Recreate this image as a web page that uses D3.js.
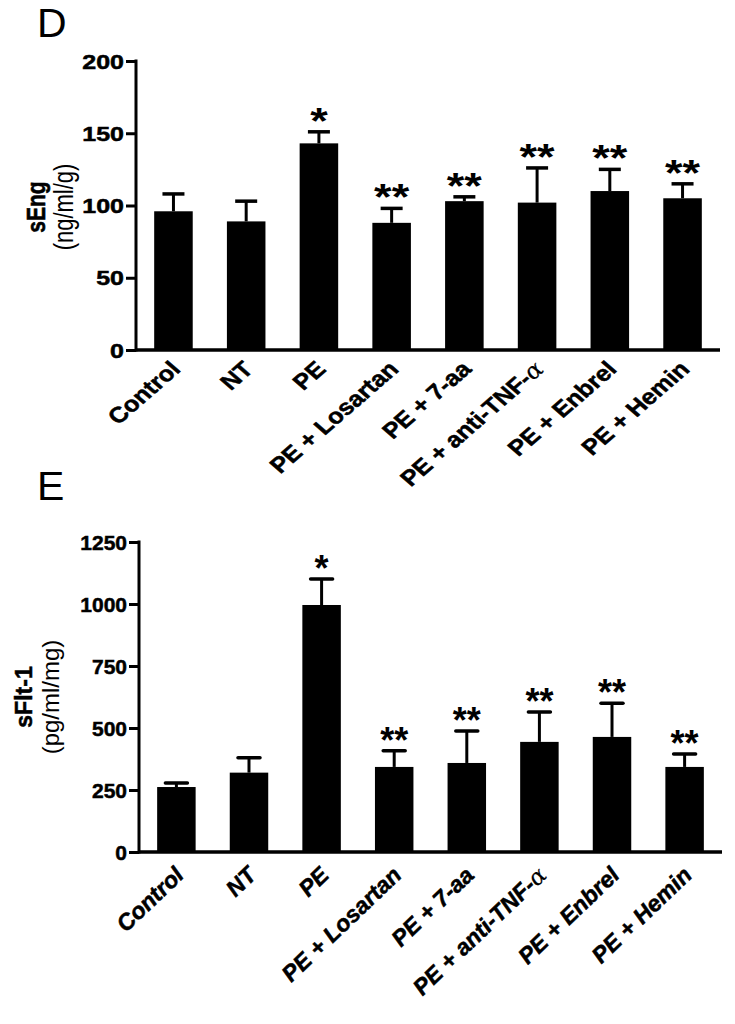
<!DOCTYPE html>
<html>
<head>
<meta charset="utf-8">
<script src="https://cdn.jsdelivr.net/npm/d3@7"></script>
<style>
  html, body { margin: 0; padding: 0; background: #fff; }
  svg { display: block; }
  text { font-family: "Liberation Sans", Arial, sans-serif; }
</style>
</head>
<body>
<script>
// ---------- data ----------
const categories = ["Control", "NT", "PE", "PE + Losartan", "PE + 7-aa", "PE + anti-TNF-α", "PE + Enbrel", "PE + Hemin"];

// Panel D: sEng (ng/ml/g)
const sEngMean = [96, 89, 143, 88, 103, 102, 110, 105];
const sEngSEM  = [12, 14, 8, 10, 3, 24, 15, 10];
const sEngSig  = ["", "", "*", "**", "**", "**", "**", "**"];
const sEngTicks = [0, 50, 100, 150, 200];

// Panel E: sFlt-1 (pg/ml/mg)
const sFltMean = [262, 320, 996, 343, 359, 444, 464, 343];
const sFltSEM  = [16, 60, 105, 65, 129, 121, 136, 52];
const sFltSig  = ["", "", "*", "**", "**", "**", "**", "**"];
const sFltTicks = [0, 250, 500, 750, 1000, 1250];

const svg = d3.select("body").append("svg")
  .attr("width", 735).attr("height", 1024);

const BOLD_STROKE = 0.5;

function panel(o) {
  const g = svg.append("g");
  const x = d3.scaleBand().domain(categories)
    .range([o.x0, o.x1]).paddingInner(0.47).paddingOuter(0.25);
  const y = d3.scaleLinear().domain([0, o.yMax]).range([o.yBase, o.yTop]);

  // panel letter
  svg.append("text").attr("x", o.letterX).attr("y", o.letterY)
    .attr("font-size", 41).attr("fill", "#000").text(o.letter);

  // bars
  g.selectAll("rect.bar").data(categories).join("rect")
    .attr("class", "bar")
    .attr("x", d => x(d))
    .attr("y", (d, i) => y(o.mean[i]))
    .attr("width", x.bandwidth())
    .attr("height", (d, i) => y(0) - y(o.mean[i]))
    .attr("fill", "#000");

  // error bars (upper only)
  const eb = g.selectAll("g.err").data(categories).join("g").attr("class", "err");
  eb.append("line")
    .attr("x1", d => x(d) + x.bandwidth() / 2)
    .attr("x2", d => x(d) + x.bandwidth() / 2)
    .attr("y1", (d, i) => y(o.mean[i]))
    .attr("y2", (d, i) => y(o.mean[i] + o.sem[i]))
    .attr("stroke", "#000").attr("stroke-width", 3);
  eb.append("line")
    .attr("x1", d => x(d) + x.bandwidth() / 2 - o.capW / 2)
    .attr("x2", d => x(d) + x.bandwidth() / 2 + o.capW / 2)
    .attr("y1", (d, i) => y(o.mean[i] + o.sem[i]))
    .attr("y2", (d, i) => y(o.mean[i] + o.sem[i]))
    .attr("stroke", "#000").attr("stroke-width", 3.5)
    .attr("stroke-linecap", o.capRound ? "round" : "butt");

  // significance stars
  g.selectAll("text.sig").data(categories).join("text")
    .attr("class", "sig")
    .attr("text-anchor", "middle")
    .attr("font-size", o.sigFont)
    .attr("font-weight", "bold")
    .attr("transform", (d, i) => `translate(${x(d) + x.bandwidth() / 2},${y(o.mean[i] + o.sem[i]) + o.sigDy}) scale(${o.sx},1)`)
    .text((d, i) => o.sig[i]);

  // y axis
  const ya = g.append("g").attr("transform", `translate(${o.x0},0)`)
    .call(d3.axisLeft(y).tickValues(o.ticks).tickFormat(d3.format("d"))
      .tickSize(o.tickLen).tickSizeOuter(0).tickPadding(0));
  ya.select(".domain").attr("stroke", "#000").attr("stroke-width", 3)
    .attr("d", `M0,${o.yBase + 1.5}V${o.yTop - 1.5}`);
  ya.selectAll(".tick line").attr("stroke", "#000").attr("stroke-width", 3);
  ya.selectAll(".tick text")
    .attr("x", null).attr("dy", "0.36em")
    .attr("transform", `translate(${-o.tickLen - 2},0) scale(${o.sx},1)`)
    .attr("font-family", "'Liberation Sans', Arial, sans-serif")
    .attr("font-size", o.tickFont).attr("font-weight", "bold").attr("fill", "#000")
    .attr("stroke", "#000").attr("stroke-width", BOLD_STROKE);

  // x axis
  const xa = g.append("g").attr("transform", `translate(0,${o.yBase})`)
    .call(d3.axisBottom(x).tickSize(0).tickSizeOuter(0).tickPadding(0));
  xa.select(".domain").attr("stroke", "#000").attr("stroke-width", 3.5)
    .attr("d", `M${o.x0},0H${o.x1}`);
  xa.selectAll(".tick text").each(function (d) {
    const t = d3.select(this);
    t.text(null)
      .attr("y", null).attr("dy", "0.35em")
      .attr("text-anchor", "end")
      .attr("font-family", "'Liberation Sans', Arial, sans-serif")
      .attr("font-size", o.labelFont).attr("font-weight", "bold")
      .attr("font-style", o.labelItalic ? "italic" : "normal")
      .attr("fill", "#000")
      .attr("stroke", "#000").attr("stroke-width", BOLD_STROKE)
      .attr("transform", `translate(${o.labDx},${o.labDy}) scale(${o.labSx},1) rotate(${o.labRot})`);
    const parts = d.split("α");
    t.append("tspan").text(parts[0]);
    if (parts.length > 1) {
      t.append("tspan").attr("font-family", "'DejaVu Serif', serif")
        .attr("font-style", "italic").attr("font-weight", "normal")
        .attr("stroke-width", 0.2).text("α");
    }
  });

  // axis titles
  svg.append("text")
    .attr("transform", `translate(${o.titleX},${o.titleY}) scale(${o.sx},1) rotate(-90)`)
    .attr("text-anchor", "middle").attr("font-weight", "bold")
    .attr("stroke", "#000").attr("stroke-width", BOLD_STROKE)
    .attr("font-size", o.titleFont).attr("fill", "#000").text(o.title);
  svg.append("text")
    .attr("transform", `translate(${o.unitX},${o.titleY}) scale(${o.sx},1) rotate(-90)`)
    .attr("text-anchor", "middle")
    .attr("font-size", o.unitFont).attr("fill", "#000").text(o.unit);
}

panel({
  letter: "D", letterX: 37, letterY: 37,
  x0: 136, x1: 720, yTop: 61, yBase: 350, yMax: 200, ticks: sEngTicks,
  mean: sEngMean, sem: sEngSEM, sig: sEngSig,
  capW: 22, capRound: false, sigFont: 36, sigDy: 2, sx: 1.25,
  tickLen: 10, tickFont: 20,
  labelFont: 22, labelItalic: false, labSx: 1.15, labRot: -45, labDx: 2, labDy: 15,
  title: "sEng", unit: "(ng/ml/g)", titleX: 45, unitX: 73, titleY: 207,
  titleFont: 21, unitFont: 22
});

panel({
  letter: "E", letterX: 37, letterY: 500,
  x0: 139, x1: 722, yTop: 542, yBase: 852, yMax: 1250, ticks: sFltTicks,
  mean: sFltMean, sem: sFltSEM, sig: sFltSig,
  capW: 22, capRound: true, sigFont: 36, sigDy: 2, sx: 1.0,
  tickLen: 10, tickFont: 21,
  labelFont: 22.5, labelItalic: true, labSx: 1.05, labRot: -45, labDx: 3, labDy: 19,
  title: "sFlt-1", unit: "(pg/ml/mg)", titleX: 32, unitX: 59, titleY: 697,
  titleFont: 23, unitFont: 24
});
</script>
</body>
</html>
